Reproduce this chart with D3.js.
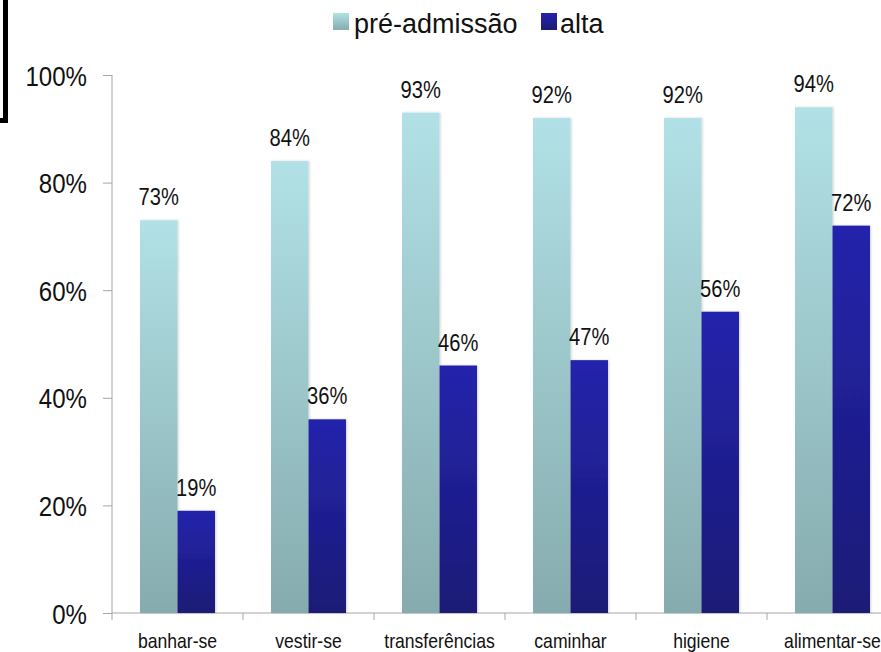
<!DOCTYPE html>
<html>
<head>
<meta charset="utf-8">
<script src="https://cdn.jsdelivr.net/npm/d3@7"></script>
<style>
  html, body { margin: 0; padding: 0; background: #fff; }
  svg { display: block; font-family: "Liberation Sans", Arial, Helvetica, sans-serif; }
</style>
</head>
<body>
<svg id="chart" width="881" height="652"></svg>
<script>
// Activities of daily living: share of independent patients
const categories = ["banhar-se", "vestir-se", "transferências", "caminhar", "higiene", "alimentar-se"];
const series = ["pré-admissão", "alta"];
const preAdmissao = [0.73, 0.84, 0.93, 0.92, 0.92, 0.94];
const alta = [0.19, 0.36, 0.46, 0.47, 0.56, 0.72];
const yTicks = [0, 0.2, 0.4, 0.6, 0.8, 1.0];

const values = { "pré-admissão": preAdmissao, "alta": alta };

(function draw() {
  const svg = d3.select("#chart");
  const plotLeft = 112, plotTop = 75, plotBottom = 613;
  const plotRight = 898; // the category axis runs past the right edge

  const x = d3.scaleBand().domain(categories).range([plotLeft, plotRight]).paddingInner(0).paddingOuter(0);
  const x1 = d3.scaleBand().domain(series).range([0, x.bandwidth()]).paddingInner(0).paddingOuter(0.747);
  const y = d3.scaleLinear().domain([0, 1]).range([plotBottom, plotTop]);

  const squeeze = 0.86;
  const fmt = d3.format(".0%");

  // gradients
  const defs = svg.append("defs");
  const grads = {
    "pré-admissão": ["#b1e1e6", "#86abae"],
    "alta": ["#2424ac", "#1a1a76"]
  };
  series.forEach((s, i) => {
    const g = defs.append("linearGradient").attr("id", "grad" + i)
      .attr("x1", 0).attr("y1", 0).attr("x2", 0).attr("y2", 1);
    g.append("stop").attr("offset", "0%").attr("stop-color", grads[s][0]);
    g.append("stop").attr("offset", "100%").attr("stop-color", grads[s][1]);
  });
  const shadow = defs.append("filter").attr("id", "shade")
    .attr("x", "-20%").attr("y", "-5%").attr("width", "140%").attr("height", "110%");
  shadow.append("feDropShadow").attr("dx", 1).attr("dy", 0).attr("stdDeviation", 0.8)
    .attr("flood-color", "#000").attr("flood-opacity", 0.18);

  // frame corner at the top left
  svg.append("path")
    .attr("d", "M5.5,0 V120.5 H0")
    .attr("fill", "none").attr("stroke", "#000").attr("stroke-width", 5);

  // y axis
  const yAxis = svg.append("g").attr("transform", `translate(${plotLeft},0)`)
    .call(d3.axisLeft(y).tickValues(yTicks).tickFormat(fmt).tickSize(9).tickPadding(0));
  yAxis.select(".domain").attr("stroke", "#a6a6a6").attr("d", `M0,${plotTop}V${plotBottom}`);
  yAxis.selectAll(".tick line").attr("stroke", "#a6a6a6");
  yAxis.selectAll(".tick text")
    .attr("x", null).attr("dy", null)
    .attr("font-size", 28).attr("fill", "#111")
    .attr("text-anchor", "end")
    .attr("transform", `translate(-25,10) scale(${squeeze},1)`);

  // x axis
  const xAxis = svg.append("g").attr("transform", `translate(0,${plotBottom})`);
  xAxis.append("line").attr("x1", plotLeft).attr("x2", plotRight).attr("y1", 0).attr("y2", 0)
    .attr("stroke", "#a6a6a6");
  xAxis.selectAll("line.tk").data(categories).join("line").attr("class", "tk")
    .attr("x1", d => x(d)).attr("x2", d => x(d)).attr("y1", 0).attr("y2", 7)
    .attr("stroke", "#a6a6a6");
  xAxis.selectAll("text").data(categories).join("text")
    .attr("transform", d => `translate(${x(d) + x.bandwidth() / 2},35) scale(0.88,1)`)
    .attr("text-anchor", "middle").attr("font-size", 20).attr("fill", "#111")
    .text(d => d);

  // bars
  const rows = (c, ci) => series.map((s, si) => ({ s, si, v: values[s][ci] }));
  const groups = svg.append("g").selectAll("g").data(categories).join("g")
    .attr("transform", d => `translate(${x(d)},0)`);
  groups.selectAll("rect").data(rows)
    .join("rect")
    .attr("x", d => x1(d.s))
    .attr("width", x1.bandwidth())
    .attr("y", d => y(d.v))
    .attr("height", d => y(0) - y(d.v))
    .attr("fill", d => `url(#grad${d.si})`)
    .attr("filter", "url(#shade)");

  // value labels
  groups.selectAll("text").data(rows)
    .join("text")
    .attr("transform", d => `translate(${x1(d.s) + x1.bandwidth() / 2},${y(d.v) - 15}) scale(0.84,1)`)
    .attr("text-anchor", "middle").attr("font-size", 24).attr("fill", "#111")
    .text(d => fmt(d.v));

  // legend
  const legendPos = [{ sx: 333, tx: 354 }, { sx: 541, tx: 560 }];
  const legend = svg.append("g");
  series.forEach((s, i) => {
    legend.append("rect").attr("x", legendPos[i].sx).attr("y", 13)
      .attr("width", 16).attr("height", 17).attr("fill", `url(#grad${i})`);
    legend.append("text").attr("x", legendPos[i].tx).attr("y", 33)
      .attr("font-size", 27).attr("fill", "#111").text(s);
  });
})();
</script>
</body>
</html>
